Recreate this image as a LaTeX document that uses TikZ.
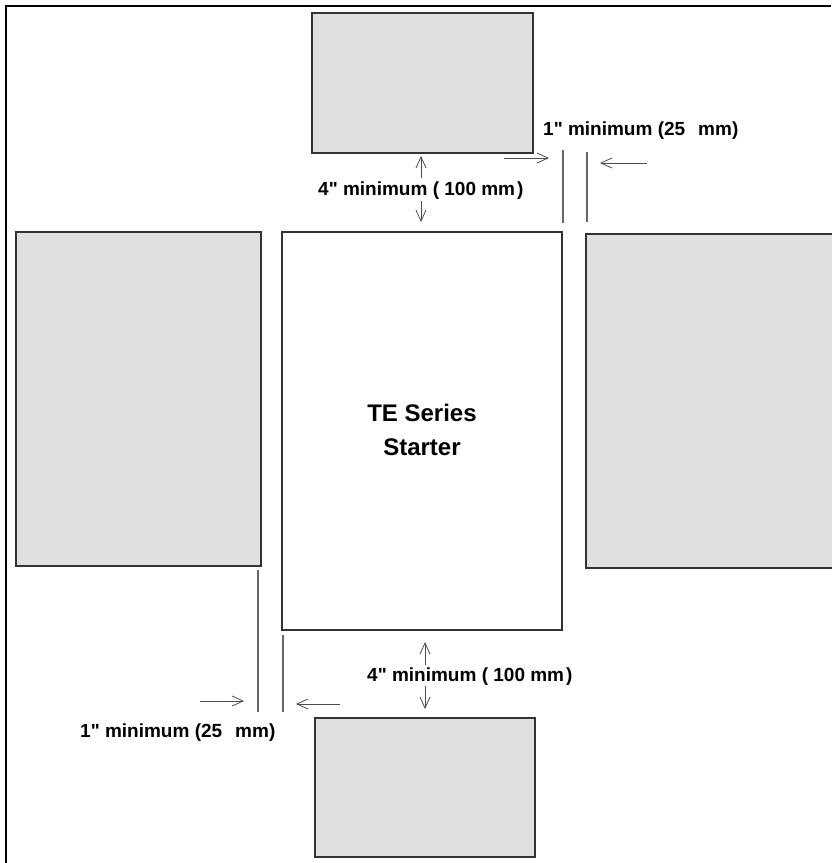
\documentclass[tikz,border=0pt]{standalone}
\usepackage{fontspec}
\setmainfont{Liberation Sans}[Ligatures=TeXOff]
\usetikzlibrary{arrows.meta}
\begin{document}
\begin{tikzpicture}[x=1pt,y=-1pt,
  grey box/.style={draw=black!80,line width=1.2pt,fill=black!12},
  white box/.style={draw=black!80,line width=1.2pt,fill=white},
  guide/.style={draw=black!60,line width=1.2pt},
  dimarrow/.style={draw=black!70,line width=0.8pt,-{Straight Barb[length=11pt,width=10pt,line width=0.8pt]}},
  lbl/.style={font=\bfseries\fontsize{19}{22}\selectfont,inner sep=0pt},
  big/.style={font=\bfseries\fontsize{24}{34}\selectfont,align=center,inner sep=0pt}]
\useasboundingbox (0,0) rectangle (831,863);
% outer frame
\draw[line width=2.2pt] (6,863) -- (6,6) -- (831,6);
% boxes
\path[grey box] (312,13) rectangle (533,153);
\path[grey box] (16,232) rectangle (261,566);
\path[white box] (282,232) rectangle (562,630);
\path[grey box] (586,234) rectangle (840,568);
\path[grey box] (315,718) rectangle (535,857);
\node[big] (title) at (422,430) {TE Series\\Starter};
% top right guides
\coordinate (g1a) at (563,150); \coordinate (g1b) at (563,223);
\coordinate (g2a) at (587,152); \coordinate (g2b) at (587,222);
\draw[guide] (g1a) -- (g1b);
\draw[guide] (g2a) -- (g2b);
% bottom left guides
\coordinate (g3a) at (258,570); \coordinate (g3b) at (258,712);
\coordinate (g4a) at (283,635); \coordinate (g4b) at (283,712);
\draw[guide] (g3a) -- (g3b);
\draw[guide] (g4a) -- (g4b);
% horizontal arrows
\coordinate (a1s) at (504,158); \coordinate (a1e) at (549,158);
\coordinate (a2s) at (647,163); \coordinate (a2e) at (600,163);
\coordinate (a3s) at (200,701); \coordinate (a3e) at (244,701);
\coordinate (a4s) at (340,704); \coordinate (a4e) at (296,704);
\draw[dimarrow] (a1s) -- (a1e);
\draw[dimarrow] (a2s) -- (a2e);
\draw[dimarrow] (a3s) -- (a3e);
\draw[dimarrow] (a4s) -- (a4e);
% vertical arrows
\coordinate (v1s) at (421,178); \coordinate (v1e) at (421,156);
\coordinate (v2s) at (421,201); \coordinate (v2e) at (421,222);
\coordinate (v3s) at (425,665); \coordinate (v3e) at (425,642);
\coordinate (v4s) at (425,686); \coordinate (v4e) at (425,709);
\draw[dimarrow] (v1s) -- (v1e);
\draw[dimarrow] (v2s) -- (v2e);
\draw[dimarrow] (v3s) -- (v3e);
\draw[dimarrow] (v4s) -- (v4e);
% labels
\node[lbl,anchor=west] (t1) at (543,131) {1" minimum (25\hspace{13pt}mm)};
\node[lbl,anchor=west] (t2) at (318,191) {4" minimum ( 100 mm\hspace{2pt})};
\node[lbl,anchor=west] (t3) at (367,677) {4" minimum ( 100 mm\hspace{2pt})};
\node[lbl,anchor=west] (t4) at (80,733) {1" minimum (25\hspace{13pt}mm)};
\end{tikzpicture}
\end{document}
